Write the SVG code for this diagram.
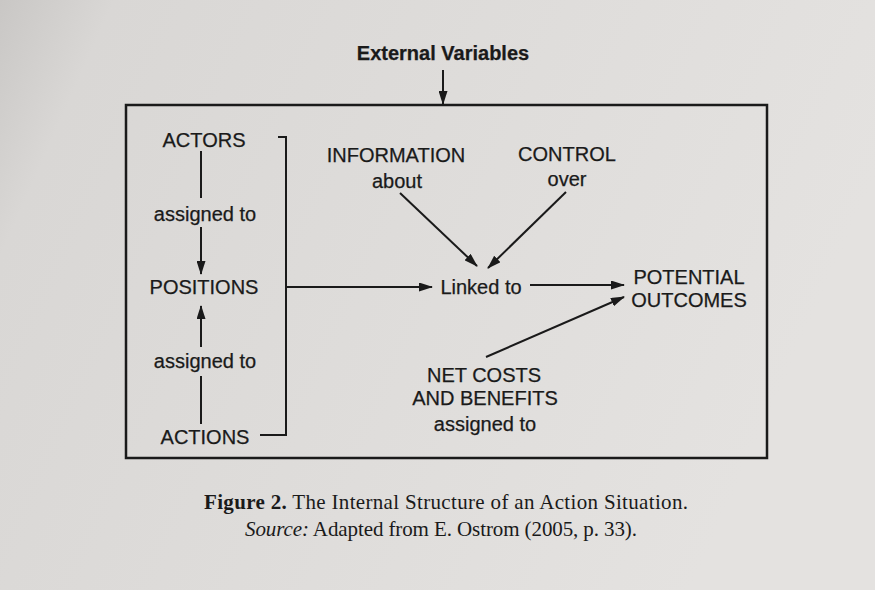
<svg xmlns="http://www.w3.org/2000/svg" width="875" height="590" viewBox="0 0 875 590">
<defs>
<linearGradient id="paper" x1="0" y1="0" x2="1" y2="0.3">
<stop offset="0" stop-color="#c9c7c5"/>
<stop offset="0.12" stop-color="#d9d7d5"/>
<stop offset="1" stop-color="#e4e2e0"/>
</linearGradient>
<marker id="ah" markerUnits="userSpaceOnUse" markerWidth="14" markerHeight="9" refX="13" refY="4.5" orient="auto">
<path d="M0,0 L14,4.5 L0,9 z" fill="#1a1a1a"/>
</marker>
<style>
.t{font-family:"Liberation Sans",Arial,sans-serif;font-size:20px;fill:#1a1a1a;stroke:#1a1a1a;stroke-width:0.25;text-anchor:middle}
.b{font-weight:bold}
.c{font-family:"Liberation Serif","Times New Roman",serif;font-size:21px;fill:#1a1a1a}
.ln{stroke:#1a1a1a;stroke-width:2;fill:none}
.ar{stroke:#1a1a1a;stroke-width:2;fill:none;marker-end:url(#ah)}
.box{stroke:#1a1a1a;stroke-width:2.5;fill:none}
</style>
</defs>
<rect width="875" height="590" fill="url(#paper)"/>
<g id="external"><text class="t b" x="443" y="60">External Variables</text></g>
<g id="situation"><rect class="box" x="126" y="105" width="641" height="353"/></g>
<g id="actors"><text class="t" x="204" y="147">ACTORS</text></g>
<g id="assigned1"><text class="t" x="205" y="221">assigned to</text></g>
<g id="positions"><text class="t" x="204" y="294">POSITIONS</text></g>
<g id="assigned2"><text class="t" x="205" y="368">assigned to</text></g>
<g id="actions"><text class="t" x="205" y="444">ACTIONS</text></g>
<g id="information"><text class="t" x="396" y="162">INFORMATION</text><text class="t" x="397" y="188">about</text></g>
<g id="control"><text class="t" x="567" y="161">CONTROL</text><text class="t" x="567" y="186">over</text></g>
<g id="linked"><text class="t" x="481" y="294">Linked to</text></g>
<g id="outcomes"><text class="t" x="689" y="284">POTENTIAL</text><text class="t" x="689" y="307">OUTCOMES</text></g>
<g id="costs"><text class="t" x="484" y="382">NET COSTS</text><text class="t" x="485" y="405">AND BENEFITS</text><text class="t" x="485" y="431">assigned to</text></g>
<g id="connectors">
<line class="ar" x1="443" y1="70" x2="443" y2="104"/>
<line class="ln" x1="201" y1="151" x2="201" y2="198"/>
<line class="ar" x1="201" y1="227" x2="201" y2="274"/>
<line class="ln" x1="201" y1="424" x2="201" y2="376"/>
<line class="ar" x1="201" y1="347" x2="201" y2="306"/>
<path class="ln" d="M278,137 H286 V435 H260"/>
<line class="ar" x1="286" y1="287" x2="432" y2="287"/>
<line class="ar" x1="530" y1="285" x2="624" y2="285"/>
<line class="ar" x1="400" y1="193" x2="477" y2="266"/>
<line class="ar" x1="566" y1="192" x2="488" y2="268"/>
<line class="ar" x1="486" y1="357" x2="624" y2="297"/>
</g>
<g id="caption">
<text class="c" x="204" y="509" textLength="484" lengthAdjust="spacing"><tspan font-weight="bold">Figure 2.</tspan> The Internal Structure of an Action Situation.</text>
<text class="c" x="245" y="536" textLength="392" lengthAdjust="spacing"><tspan font-style="italic">Source:</tspan> Adapted from E. Ostrom (2005, p. 33).</text>
</g>
</svg>
